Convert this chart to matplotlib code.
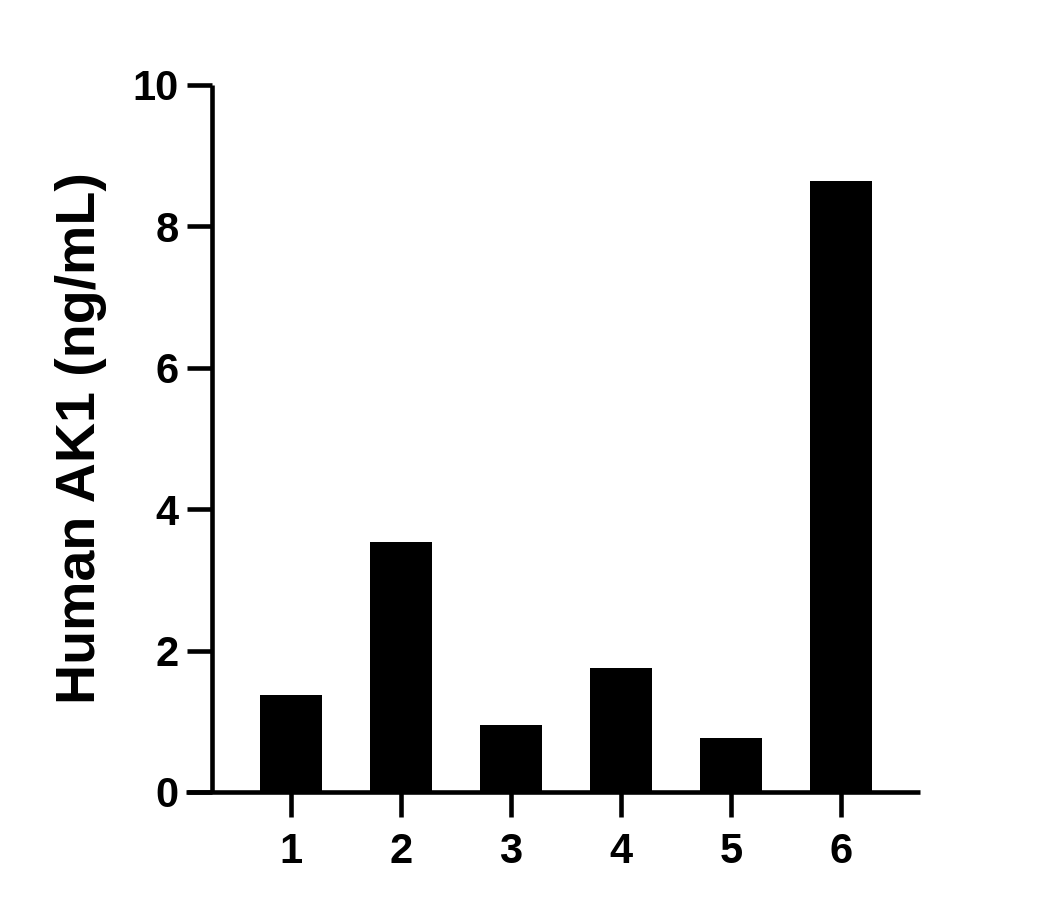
import matplotlib
matplotlib.use("Agg")
import matplotlib.pyplot as plt

plt.rcParams['font.family'] = ['Liberation Sans', 'DejaVu Sans']
plt.rcParams['font.weight'] = 'bold'

samples = ["1", "2", "3", "4", "5", "6"]
values = [1.37, 3.54, 0.95, 1.75, 0.76, 8.64]
y_ticks = [0, 2, 4, 6, 8, 10]

fig = plt.figure(figsize=(10.58, 9.08), dpi=100)
ax = fig.add_axes([0.1758, 0.1278, 0.6938, 0.7786])

pos = list(range(1, len(samples) + 1))
ax.bar(pos, values, width=0.56, color="black")

ax.set_xlim(0.045, 6.72)
ax.set_ylim(0, 10)

for s in ["top", "right"]:
    ax.spines[s].set_visible(False)
# y axis sits right of the plot's left edge so the x axis runs past it
ax.spines["left"].set_position(("data", 0.282))
for s in ["left", "bottom"]:
    ax.spines[s].set_linewidth(3.3)
    ax.spines[s].set_capstyle("butt")

ax.set_xticks(pos)
ax.set_xticklabels(samples)
ax.set_yticks(y_ticks)
ax.set_yticklabels([str(t) for t in y_ticks])
ax.tick_params(axis="both", length=18, width=3.3, labelsize=30, color="black")
ax.tick_params(axis="x", pad=11)
ax.tick_params(axis="y", pad=6)

ax.set_ylabel("Human AK1 (ng/mL)", fontsize=40, fontweight="bold", labelpad=18)

fig.savefig("out.png", dpi=100)
